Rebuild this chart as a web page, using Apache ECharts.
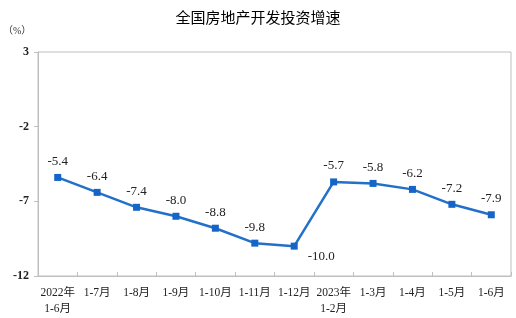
<!DOCTYPE html>
<html>
<head>
<meta charset="utf-8">
<script src="https://cdn.jsdelivr.net/npm/echarts@6/dist/echarts.min.js"></script>
<style>
  html, body { margin: 0; padding: 0; background: #fff; }
  #main { width: 516px; height: 318px; }
</style>
</head>
<body>
<div id="main"></div>
<script>
var categories = ['2022年\n1-6月', '1-7月', '1-8月', '1-9月', '1-10月', '1-11月', '1-12月', '2023年\n1-2月', '1-3月', '1-4月', '1-5月', '1-6月']
var growth = [-5.4, -6.4, -7.4, -8.0, -8.8, -9.8, -10.0, -5.7, -5.8, -6.2, -7.2, -7.9]

var serif = '"Liberation Serif", "Noto Sans CJK SC", serif'
var chart = echarts.init(document.getElementById('main'))

chart.setOption({
  animation: false,
  title: {
    text: '全国房地产开发投资增速',
    left: 'center',
    top: 5,
    textStyle: { fontFamily: '"Noto Sans CJK SC"', fontSize: 15, fontWeight: 'normal', color: '#000' }
  },
  graphic: [{
    type: 'text',
    left: 3,
    top: 26,
    style: { text: '（%）', font: '10px ' + serif, fill: '#333' }
  }],
  grid: {
    left: 38, right: 5, top: 52, bottom: 42,
    show: true, borderColor: '#bfbfbf', borderWidth: 1
  },
  xAxis: {
    type: 'category',
    data: categories,
    boundaryGap: true,
    axisLine: { onZero: false, lineStyle: { color: '#bfbfbf' } },
    axisTick: { show: true, inside: true, length: 4, lineStyle: { color: '#bfbfbf' } },
    axisLabel: { interval: 0, fontFamily: serif, fontSize: 11.5, color: '#222', lineHeight: 16, margin: 9 }
  },
  yAxis: {
    type: 'value',
    min: -12, max: 3, interval: 5,
    axisLine: { show: true, lineStyle: { color: '#bfbfbf' } },
    axisTick: { show: true, length: 4, lineStyle: { color: '#bfbfbf' } },
    splitLine: { show: false },
    axisLabel: { fontFamily: serif, fontSize: 12, fontWeight: 'bold', color: '#222', margin: 9 }
  },
  series: [{
    type: 'line',
    data: growth.map(function (v, i) {
      return i === 6 ? { value: v, label: { position: 'right', offset: [4, 10] } } : v
    }),
    symbol: 'rect',
    symbolSize: 7,
    lineStyle: { color: '#2370c8', width: 2.5 },
    itemStyle: { color: '#1565c8' },
    label: {
      show: true, position: 'top', distance: 6,
      fontFamily: serif, fontSize: 13, color: '#222',
      formatter: function (p) { return p.value.toFixed(1) }
    }
  }]
})
</script>
</body>
</html>
